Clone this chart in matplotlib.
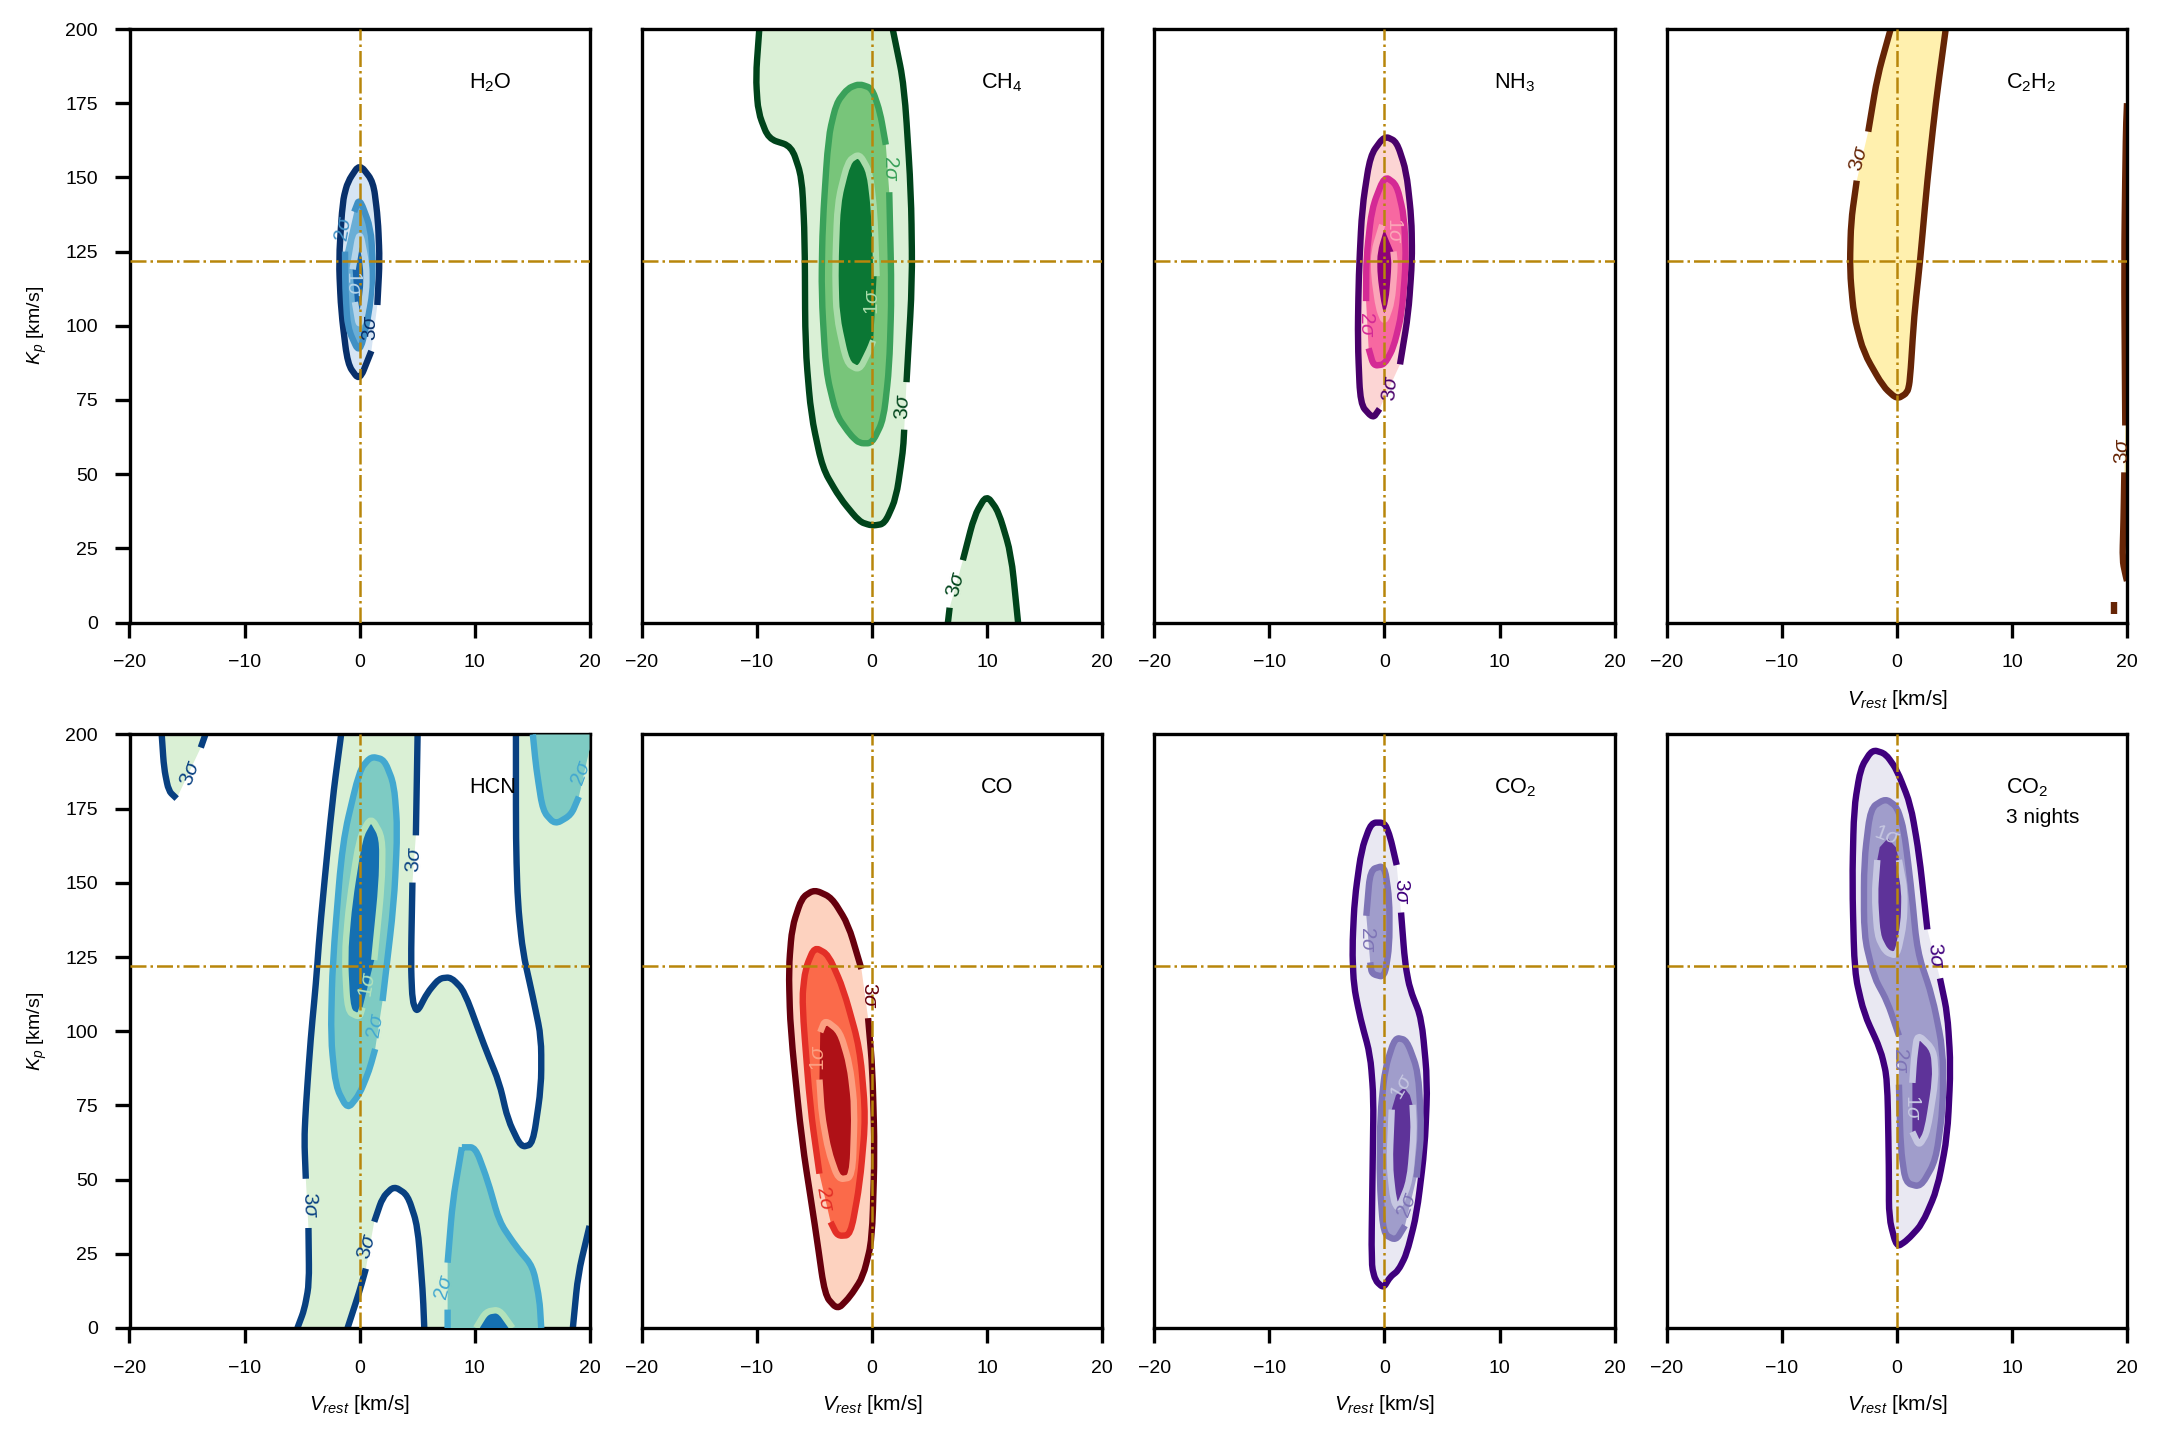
import matplotlib
matplotlib.use("Agg")
import matplotlib.pyplot as plt
from matplotlib.patches import PathPatch
from matplotlib.path import Path
import numpy as np

plt.rcParams['font.family'] = ['Liberation Sans', 'DejaVu Sans']
plt.rcParams['mathtext.fontset'] = 'custom'
plt.rcParams['mathtext.rm'] = 'Liberation Sans'
plt.rcParams['mathtext.it'] = 'Liberation Sans:italic'
plt.rcParams['mathtext.bf'] = 'Liberation Sans:bold'

# contour outlines, (Vrest, Kp), GAP = break in the stroke
GAP = (np.nan, np.nan)

h2o_3 = [(1.03, 91.5), GAP, (1.55, 107), (1.75, 122), (1.6, 136), (1.2, 148.5), (0, 154.5), (-1.03, 148.5), (-1.47, 141.8),
         (-1.8, 122), (-1.6, 105), (-1.03, 87), (0, 81.5), (1.03, 91.5)]
h2o_2 = [(-0.46, 138.4), (0, 143), (0.98, 132.8), (1.18, 119.4), (0.83, 103.8), (0, 90.5), (-1.03, 99.3),
         (-1.24, 112.7), (-1.26, 125), GAP, (-0.46, 138.4)]
h2o_1 = [(-0.4, 108), (0, 99), (0.6, 111.6), (0.6, 120.5), (0, 132.5), (-0.6, 119), GAP, (-0.4, 108)]

ch4_3a = [(-9.8, 200), (-10.1, 184), (-9.9, 172), (-9.0, 163), (-7, 160.5), (-6.1, 150), (-5.85, 130), (-5.8, 93),
          (-5.3, 70), (-4.3, 52), (-2.8, 42), (-1.1, 34), (0, 32.6), (1.1, 33.3), (2.1, 42), (2.7, 58), (2.8, 65),
          GAP, (3.0, 81), (3.5, 115), (3.4, 144.5), (2.8, 181), (1.8, 200)]
ch4_3b = [(6.6, 0), (6.75, 5), GAP, (7.9, 21), (8.9, 36), (9.95, 43), (11, 37.4), (12.1, 23), (12.7, 0)]
ch4_2 = [(1.5, 145), (1.7, 111), (1.5, 86), (1, 68.4), (0, 60.4), (-1.1, 60.4), (-1.9, 63.3), (-3.1, 70), (-4, 84.5),
         (-4.4, 111), (-4.3, 134), (-3.8, 163.5), (-3.1, 175), (-2.1, 180), (-1.1, 181.5), (0, 180), (0.7, 172),
         (1.2, 161), GAP, (1.5, 145)]
ch4_1 = [(0.4, 116.7), (0.2, 138.6), (-0.2, 151.8), (-1.1, 158), (-2.1, 155.4), (-3, 141.5), (-3.2, 119.6),
         (-3.1, 103.5), (-2.2, 87.4), (-1.1, 85), (-0.2, 92), (0.1, 95), GAP, (0.4, 116.7)]

nh3_3 = [(1.35, 87), (2.07, 104), (2.4, 122), (2.35, 136), (1.9, 152), (1.06, 162), (0, 164), (-1.24, 157.4),
         (-1.95, 139.5), (-2.24, 117), (-2.33, 95), (-2.1, 73.5), (-1, 68.8), (-0.43, 72), GAP, (1.35, 87)]
nh3_2 = [(-1.6, 108.3), (-1.58, 122.8), (-1.1, 139.5), (0, 150.5), (1.06, 147.5), (1.7, 137), (1.87, 122), (1.5, 104),
         (0.78, 92.6), (0, 87), (-0.95, 86.5), (-1.38, 92.4), GAP, (-1.6, 108.3)]
nh3_1 = [(0.78, 125), (0.9, 120.5), (0.63, 108), (0, 101), (-0.5, 106), (-0.9, 117), (-0.9, 125), (-0.2, 134),
         GAP, (0.78, 125)]

c2h2_3a = [(-0.55, 200), (-1.7, 184), (-2.5, 165.4), GAP, (-3.5, 148.9), (-4.0, 135), (-4.1, 118.6), (-3.75, 103.5),
           (-2.9, 91), (-1.2, 79.5), (0, 75.3), (0.9, 77.4), (1.13, 81.5), (1.5, 103.5), (2, 121.4), (2.64, 149),
           (3.37, 175), (4.24, 200)]
c2h2_3b = [(20, 175), (19.9, 165), (19.75, 121.4), (19.85, 66.4), GAP, (19.77, 50.6), (19.7, 34.8), (19.6, 21),
           (19.9, 15.5), (20, 14)]
c2h2_3c = [(18.85, 3), (18.85, 6.8)]

hcn_3a = [(-17.2, 200), (-17, 188.7), (-16.6, 181), (-15.9, 178.4), GAP, (-13.8, 195.6), (-13.4, 200)]
hcn_3b = [(-1.6, 200), (-2.35, 178), (-3.4, 136.4), (-3.8, 115.7), (-4.24, 97.8), (-4.67, 74.4), (-4.8, 63.4),
          (-4.67, 50.3), GAP, (-4.44, 33.7), (-4.38, 15), (-4.8, 6.2), (-5.4, 0), GAP,
          (-1.04, 0), (0, 12.4), (0.55, 20), GAP, (1.28, 35.8), (2, 44), (3, 47.8), (4.18, 44.8), (5.05, 34.4),
          (5.5, 12.4), (5.63, 0), GAP,
          (18.55, 0), (19, 18), (20, 34.4), GAP, (20, 0), GAP, (20, 200), GAP,
          (13.6, 200), (13.6, 163.8), (13.76, 143.3), (14.2, 126.7), (15.07, 111.6), (15.8, 97.8), (15.8, 81.3),
          (15.07, 62), (14.05, 60.9), (12.9, 70.2), (12.16, 82.6), (10.86, 95), (9.1, 113.6), (7.95, 118.2),
          (6.94, 117.8), (5.9, 113), (5, 106.3), (4.6, 110.2), (4.47, 122.6), (4.6, 150.1), GAP, (4.9, 166),
          (5.05, 200)]
hcn_2a = [(2, 110.2), (3, 143.3), (3.3, 168), (3, 183.2), (2.15, 191.5), (1, 192.6), (0, 188), (-1.48, 163.8),
          (-2.35, 122.6), (-2.5, 97.8), (-2.06, 81.3), (-1.04, 73.7), (0, 78.8), (0.84, 86.8), (1.36, 94), GAP,
          (2, 110.2)]
hcn_2b = [(15.07, 200), (15.36, 188.7), (15.94, 174.2), (17, 169.7), (18.4, 172.9), (19.07, 179), GAP, (20, 195),
          GAP, (20, 200)]
hcn_2c = [(8.9, 60.9), (10.07, 60.9), (11.15, 49.6), (12.16, 35.8), (13.6, 27.5), (15.07, 20.7), (15.65, 9.6),
          (15.8, 0), GAP, (7.66, 0), (7.66, 6.2), GAP, (7.66, 22), (8.1, 42.7), (8.9, 60.9)]
hcn_1a = [(1.28, 124), (1.95, 150), (2, 165.3), (1, 172.2), (0, 165.3), (-0.9, 143.3), (-1.3, 125.3), (-1.04, 106.7),
          (0, 104.7), (0.26, 108), GAP, (1.28, 124)]
hcn_1b = [(10.13, 0), (11, 5.5), (12.16, 6.2), (13.3, 0)]

co_3 = [(-0.34, 104.4), (0.03, 87.6), (0.23, 59.7), (0, 29.6), (-0.78, 17.3), (-1.9, 10.6), (-3, 6.2), (-4.1, 11),
        (-4.94, 34), (-6.1, 63), (-7.1, 101), (-7.24, 121), (-6.95, 135), (-6.1, 145), (-5, 147.7), (-3.5, 145),
        (-2.07, 136), (-0.92, 121), GAP, (-0.34, 104.4)]
co_2 = [(-4.57, 52), (-5.37, 74.2), (-6.1, 110), (-5.8, 121), (-5, 128.4), (-3.8, 125.8), (-2.5, 114.4), (-1.06, 94.3),
        (-0.55, 71), (-1.06, 48.6), (-1.87, 31.3), (-3, 31), (-3.6, 35.7), GAP, (-4.57, 52)]
co_1 = [(-4.57, 83.7), (-4.37, 72), (-3.8, 59.7), (-2.93, 50), (-1.7, 50.8), (-1.5, 74.2), (-1.93, 88.7), (-2.79, 99.9),
        (-4.08, 103.8), (-4.5, 99.7), GAP, (-4.57, 83.7)]

co2_3 = [(1.44, 140), (1.78, 123.2), (2.2, 114.3), (3.22, 104.3), (3.74, 83), (3.5, 60.7), (2.8, 38.4), (1.93, 25),
         (1.2, 19.4), (0.49, 17.2), (-0.09, 13.5), (-0.8, 16), (-1.15, 21.7), (-1.03, 55), (-0.95, 77.5), (-1.24, 92),
         (-2.1, 104.3), (-2.67, 115.4), (-2.8, 127.7), (-2.6, 144.4), (-2, 161.2), (-1.15, 170.3), (0, 170.3),
         (0.49, 165.6), (1.06, 156), GAP, (1.44, 140)]
co2_2a = [(-1.24, 123.2), (-1.1, 119.3), (0, 118.2), (0.43, 128.8), (0.43, 144.4), (0, 155.9), (-1.24, 154.4),
          (-1.58, 138.9), GAP, (-1.24, 123.2)]
co2_2b = [(1.78, 34.5), (1, 29.5), (-0.09, 31.7), (-0.43, 49.6), (-0.37, 71.9), (0.06, 87.6), (0.92, 97.9), (1.93, 97),
          (2.93, 86.4), (3.22, 66.3), (2.79, 50.7), GAP, (1.78, 34.5)]
co2_1 = [(0.63, 73.6), (0.43, 55.2), (0.78, 42.9), (1.2, 40), (2.2, 49.6), (2.56, 66.3), (2.44, 75.2), GAP, (2.2, 78.5),
         GAP, (1.7, 81), GAP, (1.0, 78.5), GAP, (0.63, 73.6)]

co23n_3 = [(3.74, 117.8), (4.38, 106), (4.67, 88.2), (4.38, 64.7), (3.5, 46.8), (2.2, 35.1), (0.9, 29.6), (-0.03, 27.2),
           (-0.7, 37.2), (-0.7, 53.7), (-0.84, 84), (-1.42, 93.7), (-2.87, 106), (-3.69, 119.8), (-3.89, 150),
           (-3.74, 175), (-3.16, 188.7), (-2.15, 194.9), (-0.99, 193.5), (0, 188), (1.19, 176.3), (1.92, 159.8),
           (2.64, 134.3), GAP, (3.74, 117.8)]
co23n_2 = [(0.17, 82), (0.32, 60.6), (0.75, 48.9), (2.06, 47.5), (3.37, 56.5), (4, 74.4), (4, 93.7), (3.08, 111.6),
           (1.77, 126.8), (1.19, 150), (0.6, 168), (0, 175.6), (-0.99, 178.4), (-2.3, 175.2), (-2.87, 157),
           (-2.87, 132.2), (-2, 118.3), (-0.84, 110), (0.17, 98.5), GAP, (0.17, 82)]
co23n_1a = [(0.17, 157.7), (0.67, 147.4), (0.6, 136.4), (0, 125.3), (-0.99, 126.7), (-1.71, 132.2), (-1.94, 146),
            (-1.71, 157.7), GAP, (-1.5, 162), GAP, (-0.8, 165), GAP, (-0.1, 162), GAP, (0.17, 157.7)]
co23n_1b = [(1.34, 82.6), (1.48, 90.9), (1.77, 99.2), (3.2, 93.7), (3.37, 84), (2.64, 66.1), (1.92, 61.3), (1.34, 66.1),
            GAP, (1.34, 82.6)]

names = ['H$_2$O', 'CH$_4$', 'NH$_3$', 'C$_2$H$_2$', 'HCN', 'CO', 'CO$_2$', 'CO$_2$']
fills = {
    'blue': ['#d6e5f4', '#6aaed6', '#1864aa'],
    'green': ['#daf0d6', '#78c57a', '#0b7734'],
    'pink': ['#fcd5d4', '#f768a1', '#8e0179'],
    'brown': ['#fff0ae', '#fe9829', '#8c2d04'],
    'teal': ['#daf0d5', '#7ecbc3', '#1570b2'],
    'red': ['#fdd2bf', '#fb6a4a', '#af1117'],
    'purple': ['#e9e8f2', '#a09dcb', '#5e3399'],
}
edges = {
    'blue': ['#08306b', '#4090c5', '#b5d4e9'],
    'green': ['#00441b', '#3aa15a', '#aadcaa'],
    'pink': ['#49006a', '#d42a95', '#fba5b8'],
    'brown': ['#662506', '#ec7014', '#fec44f'],
    'teal': ['#084081', '#43a8d0', '#b2e2bb'],
    'red': ['#67000d', '#e32f27', '#fc9f81'],
    'purple': ['#3f007d', '#7e74b6', '#c6c7e1'],
}
palette = ['blue', 'green', 'pink', 'brown', 'teal', 'red', 'purple', 'purple']

# (level index, outline)
contours = [
    [(0, h2o_3), (1, h2o_2), (2, h2o_1)],
    [(0, ch4_3a), (0, ch4_3b), (1, ch4_2), (2, ch4_1)],
    [(0, nh3_3), (1, nh3_2), (2, nh3_1)],
    [(0, c2h2_3a), (0, c2h2_3b), (0, c2h2_3c)],
    [(0, hcn_3a), (0, hcn_3b), (1, hcn_2a), (1, hcn_2b), (1, hcn_2c), (2, hcn_1a), (2, hcn_1b)],
    [(0, co_3), (1, co_2), (2, co_1)],
    [(0, co2_3), (1, co2_2a), (1, co2_2b), (2, co2_1)],
    [(0, co23n_3), (1, co23n_2), (2, co23n_1a), (2, co23n_1b)],
]
# (level index, x, y, rotation)
labels = [
    [(2, -0.55, 114.4, -90), (1, -1.32, 132.8, 80), (0, 0.98, 99.3, 90)],
    [(1, 1.6, 153, -90), (2, 0, 108, 90), (0, 2.65, 73, 88), (0, 7.3, 13, 75)],
    [(2, 0.86, 132, -90), (1, -1.55, 100.5, -90), (0, 0.5, 79, 85)],
    [(0, -3.3, 156.4, 75), (0, 19.6, 58, 90)],
    [(0, -14.7, 187, 70), (0, 4.76, 158, 87), (0, -4.33, 41.3, -88), (0, 0.7, 27.5, 75), (1, 1.42, 102, 80),
     (1, 7.37, 13.8, 75), (1, 19.3, 187, 70), (2, 0.7, 115.7, 80)],
    [(0, -0.26, 112, -90), (2, -4.65, 91, 90), (1, -4.08, 43.5, -80)],
    [(0, 1.5, 147, -90), (1, -1.47, 131, -90), (1, 2.0, 41.5, 70), (2, 1.5, 81.4, 60)],
    [(0, 3.37, 125.6, -85), (1, 0.32, 90.2, -90), (2, 1.34, 74.4, -90), (2, -0.84, 166, -20)],
]
sigma_txt = [r'3$\sigma$', r'2$\sigma$', r'1$\sigma$']


def round_path(outline, join_runs, cut=0.35):
    # rounds the corners of the read outline, runs are split at GAP
    verts, codes = [], []
    pts = np.array(outline, dtype=float)
    ends = np.flatnonzero(np.isnan(pts[:, 0]))
    for run in np.split(pts, ends):
        run = run[~np.isnan(run[:, 0])]
        if len(run) == 0:
            continue
        verts.append(run[0])
        codes.append(Path.LINETO if (join_runs and codes) else Path.MOVETO)
        for k in range(1, len(run) - 1):
            verts += [run[k] - cut * (run[k] - run[k - 1]), run[k], run[k] + cut * (run[k + 1] - run[k])]
            codes += [Path.LINETO, Path.CURVE3, Path.CURVE3]
        if len(run) > 1:
            verts.append(run[-1])
            codes.append(Path.LINETO)
    return Path(np.array(verts), codes)


fig, axs = plt.subplots(2, 4, figsize=(10.8, 7.2), dpi=200)
fig.subplots_adjust(left=129.5/2160, right=2127/2160, top=1-29/1440, bottom=1-1328/1440, wspace=0.114, hspace=0.1886)

for i, ax in enumerate(axs.flat):
    col = palette[i]
    for lev, outline in contours[i]:
        ax.add_patch(PathPatch(round_path(outline, True), facecolor=fills[col][lev], edgecolor='none', lw=0,
                               zorder=1 + lev * 2))
        ax.add_patch(PathPatch(round_path(outline, False), fill=False, edgecolor=edges[col][lev], lw=2.3,
                               capstyle='butt', joinstyle='round', zorder=2 + lev * 2))
    ax.axhline(121.9, color='darkgoldenrod', ls='-.', lw=0.9, zorder=8)
    ax.axvline(0, color='darkgoldenrod', ls='-.', lw=0.9, zorder=8)
    for lev, x, y, rot in labels[i]:
        ax.text(x, y, sigma_txt[lev], color=edges[col][lev], fontsize=7.5, rotation=rot, ha='center', va='center',
                rotation_mode='anchor', clip_on=True, zorder=9)
    ax.text(9.5, 182, names[i], fontsize=7.8, va='center', zorder=10)
    ax.set_xlim(-20, 20)
    ax.set_ylim(0, 200)
    ax.set_xticks([-20, -10, 0, 10, 20])
    ax.tick_params(labelsize=7, length=5.4, width=1.2, pad=6)
    for s in ax.spines.values():
        s.set_linewidth(1.2)
    if i % 4 == 0:
        ax.set_yticks(np.arange(0, 201, 25))
        ax.set_ylabel('$K_p$ [km/s]', fontsize=7, labelpad=6)
    else:
        ax.set_yticks([])
    if i >= 3:
        ax.set_xlabel('$V_{rest}$ [km/s]', fontsize=7.5, labelpad=6)
axs[1, 3].text(9.5, 172, '3 nights', fontsize=7.5, va='center', zorder=10)

fig.savefig('out.png', dpi=200)
